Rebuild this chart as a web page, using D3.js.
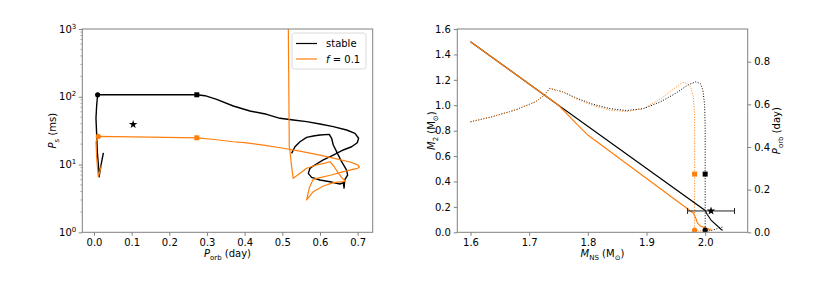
<!DOCTYPE html>
<html><head><meta charset="utf-8">
<script src="https://cdn.jsdelivr.net/npm/d3@7"></script>
<style>
body{margin:0;background:#fff}
svg{display:block}
text{font-family:"DejaVu Sans",sans-serif;fill:#000}
</style>
</head><body>
<svg id="c" width="830" height="291"></svg>
<script>
// ---------------- DATA ----------------
// Left panel: spin period (ms) vs orbital period (day)
const stablePorb = [0.5247,0.5336,0.5469,0.5646,0.5822,0.5999,0.6247,0.6309,0.6353,0.6442,0.6575,0.6708,0.6734,0.6660,0.6640,0.6620,0.6530,0.6265,0.6000,0.5778,0.5690,0.5734,0.5822,0.6088,0.6353,0.6619,0.6840,0.6990,0.7026,0.6929,0.6708,0.6353,0.6000,0.5646,0.5292,0.4938,0.4585,0.4141,0.3698,0.3257,0.2947,0.2730,0.1500,0.0098,0.0072,0.0053,0.0072,0.0088,0.0124,0.0135,0.0204,0.0250];
const stablePs   = [14.6,18.3,21.7,25.2,26.4,27.3,27.9,24.4,19.4,15.5,11.0,8.3,7.0,6.0,4.5,5.4,5.16,5.58,5.91,6.47,7.41,8.79,9.51,11.7,13.8,16.4,18.3,21.0,24.4,28.9,32.3,36.2,39.6,42.9,45.4,48.1,55.1,61.6,73.1,91.7,103.7,107,107,107,75.6,48.1,27.3,15.5,8.8,6.6,11.0,14.9];

const f01Porb = [0.516,0.517,0.5185,0.520,0.5247,0.529,0.547,0.5646,0.591,0.6130,0.6265,0.6360,0.6480,0.6600,0.6680,0.6600,0.6356,0.6090,0.5820,0.5646,0.5720,0.5820,0.6000,0.6300,0.6600,0.6850,0.7000,0.7050,0.7000,0.6800,0.6350,0.6000,0.5500,0.5025,0.4500,0.4000,0.3700,0.3200,0.2730,0.1500,0.0114,0.0053,0.0072,0.0114,0.0177,0.0204];
const f01Ps   = [1000,200,18.3,16.4,9.29,6.26,7.42,8.8,9.84,10.5,11.0,9.6,7.6,6.2,5.7,5.6,5.4,4.82,3.97,3.0,4.6,6.05,6.4,7.0,7.8,8.4,8.8,9.2,9.9,10.9,12.4,13.8,15.6,17.4,19.3,21.0,21.7,23.4,24.8,25.3,26.0,21.7,12.4,6.6,8.8,9.8];

const stableMarkPorb = [0.0098,0.273];
const stableMarkPs   = [107,107];
const f01MarkPorb = [0.0114,0.273];
const f01MarkPs   = [26.0,24.8];
const starPorb = 0.104, starPs = 39;

const leftXTicks = [0.0,0.1,0.2,0.3,0.4,0.5,0.6,0.7];
const leftYTicks = [1,10,100,1000];

// Right panel: companion mass (solid, left axis) and orbital period (dotted, right axis) vs NS mass
const stableMNS = [1.6,1.75,2.0,2.0035,2.0065,2.01,2.027,2.03];
const stableM2  = [1.5,1.0,0.172,0.14,0.12,0.096,0.024,0.015];
const f01MNS = [1.6,1.75,1.78,1.80,1.975,1.980,1.984,1.987,1.992,1.998,2.010];
const f01M2  = [1.5,1.0,0.857,0.765,0.168,0.150,0.110,0.071,0.050,0.039,0.018];

const stableMNSp = [1.6,1.637,1.677,1.711,1.726,1.735,1.745,1.757,1.78,1.809,1.838,1.866,1.895,1.924,1.950,1.970,1.984,1.992,1.996,1.999,2.0,2.0,2.0,2.005,2.015,2.03];
const stablePorbR = [0.518,0.542,0.574,0.612,0.644,0.675,0.667,0.659,0.630,0.600,0.580,0.571,0.580,0.612,0.652,0.690,0.706,0.697,0.668,0.600,0.500,0.273,0.010,0.006,0.012,0.025];
const f01MNSp = [1.6,1.637,1.677,1.711,1.726,1.735,1.745,1.757,1.78,1.809,1.838,1.866,1.895,1.924,1.945,1.962,1.970,1.976,1.980,1.982,1.982,1.982,1.990,2.000,2.010];
const f01PorbR = [0.518,0.542,0.574,0.612,0.644,0.675,0.667,0.659,0.626,0.594,0.573,0.566,0.580,0.625,0.670,0.703,0.698,0.675,0.630,0.550,0.273,0.010,0.005,0.012,0.020];

const stableMarkMNS = [2.0,2.0], stableMarkP = [0.273,0.010];
const f01MarkMNS = [1.982,1.982], f01MarkP = [0.273,0.010];
const obsMNS = 2.01, obsMNSlo = 1.97, obsMNShi = 2.05, obsM2 = 0.168;

const rightXTicks = [1.6,1.7,1.8,1.9,2.0];
const rightYTicks = [0.0,0.2,0.4,0.6,0.8,1.0,1.2,1.4,1.6];
const rightY2Ticks = [0.0,0.2,0.4,0.6,0.8];

const ORANGE = "#ff7f0e", BLACK = "#000";

// ---------------- DRAW ----------------
const svg = d3.select("#c");
const spineCol = "#808080";

function addLabel(g, x, y, parts, rotate) {
  const t = g.append("text").attr("font-size", 10).attr("text-anchor", "middle")
    .attr("transform", `translate(${x},${y})` + (rotate ? ` rotate(${rotate})` : ""));
  parts.forEach(p => {
    const ts = t.append("tspan").text(p.t);
    if (p.i) ts.attr("font-style", "italic");
    if (p.sub) ts.attr("font-size", 7).attr("dy", 2.5);
    if (p.up) ts.attr("dy", -2.5);
  });
  return t;
}

// ===== Left panel =====
const L = {x0: 82.3, x1: 372.7, y0: 29, y1: 232.3};
const xL = d3.scaleLinear().domain([-0.031, 0.74]).range([L.x0, L.x1]);
const yL = d3.scaleLog().domain([1, 1000]).range([L.y1, L.y0]);

svg.append("clipPath").attr("id","clipL").append("rect")
  .attr("x", L.x0).attr("y", L.y0).attr("width", L.x1-L.x0).attr("height", L.y1-L.y0);

const gL = svg.append("g");
gL.append("g").attr("transform", `translate(0,${L.y1})`)
  .call(d3.axisBottom(xL).tickValues(leftXTicks).tickSize(3.5).tickPadding(3).tickFormat(d3.format(".1f")));
const ayL = gL.append("g").attr("transform", `translate(${L.x0},0)`)
  .call(d3.axisLeft(yL).tickValues(leftYTicks).tickSize(3.5).tickPadding(3).tickFormat(""));
ayL.selectAll(".tick").each(function(d){
  const t = d3.select(this).append("text").attr("x", -6).attr("dy", "0.32em")
    .attr("text-anchor","end").attr("font-size",10);
  t.append("tspan").text("10");
  t.append("tspan").attr("font-size",7).attr("dy",-4).text(Math.round(Math.log10(d)));
});
// minor ticks
const minorL = [];
for (let e = 0; e < 3; e++) for (let k = 2; k <= 9; k++) minorL.push(k * Math.pow(10, e));
gL.append("g").selectAll("line").data(minorL).join("line")
  .attr("x1", L.x0).attr("x2", L.x0 - 2).attr("y1", d => yL(d)).attr("y2", d => yL(d))
  .attr("stroke", spineCol).attr("stroke-width", 0.6);

const plotL = gL.append("g").attr("clip-path","url(#clipL)");
const lineL = d3.line().x(d => xL(d[0])).y(d => yL(d[1]));
plotL.append("path").datum(stablePorb.map((p,i)=>[p,stablePs[i]]))
  .attr("d", lineL).attr("fill","none").attr("stroke",BLACK).attr("stroke-width",1.4).attr("stroke-linejoin","round");
plotL.append("path").datum(f01Porb.map((p,i)=>[p,f01Ps[i]]))
  .attr("d", lineL).attr("fill","none").attr("stroke",ORANGE).attr("stroke-width",1.2).attr("stroke-linejoin","round");
// markers
function markers(g, xs, ys, sx, sy, col) {
  g.append("circle").attr("cx", sx(xs[0])).attr("cy", sy(ys[0])).attr("r", 2.6).attr("fill", col);
  g.append("rect").attr("x", sx(xs[1]) - 2.5).attr("y", sy(ys[1]) - 2.5).attr("width", 5).attr("height", 5).attr("fill", col);
}
markers(plotL, stableMarkPorb, stableMarkPs, xL, yL, BLACK);
markers(plotL, f01MarkPorb, f01MarkPs, xL, yL, ORANGE);
plotL.append("path").attr("d", d3.symbol(d3.symbolStar, 22)())
  .attr("transform", `translate(${xL(starPorb)},${yL(starPs)})`).attr("fill", BLACK);

gL.append("rect").attr("x", L.x0).attr("y", L.y0).attr("width", L.x1-L.x0).attr("height", L.y1-L.y0)
  .attr("fill","none").attr("stroke",spineCol).attr("stroke-width",1);

// legend
const lg = gL.append("g");
lg.append("rect").attr("x", 292).attr("y", 33).attr("width", 74).attr("height", 36).attr("rx", 2.5)
  .attr("fill","#fff").attr("fill-opacity",0.8).attr("stroke","#d0d0d0").attr("stroke-width",0.8);
lg.append("line").attr("x1",296).attr("x2",317).attr("y1",43.5).attr("y2",43.5).attr("stroke",BLACK).attr("stroke-width",1.2);
lg.append("text").attr("x",326).attr("y",47).attr("font-size",10).text("stable");
lg.append("line").attr("x1",296).attr("x2",317).attr("y1",59).attr("y2",59).attr("stroke",ORANGE).attr("stroke-width",1.2);
const lt = lg.append("text").attr("x",326).attr("y",62.5).attr("font-size",10);
lt.append("tspan").attr("font-style","italic").text("f");
lt.append("tspan").text(" = 0.1");

addLabel(gL, (L.x0+L.x1)/2, 257, [{t:"P",i:true},{t:"orb",sub:true},{t:" (day)",up:true}]);
addLabel(gL, 56, (L.y0+L.y1)/2, [{t:"P",i:true},{t:"s",sub:true},{t:" (ms)",up:true}], -90);

// ===== Right panel =====
const R = {x0: 457.3, x1: 747.7, y0: 29, y1: 232.3};
const xR = d3.scaleLinear().domain([1.5775, 2.0725]).range([R.x0, R.x1]);
const yR = d3.scaleLinear().domain([0, 1.6]).range([R.y1, R.y0]);
const yR2 = d3.scaleLinear().domain([0, 0.9533]).range([R.y1, R.y0]);

svg.append("clipPath").attr("id","clipR").append("rect")
  .attr("x", R.x0).attr("y", R.y0).attr("width", R.x1-R.x0).attr("height", R.y1-R.y0);
const gR = svg.append("g");
gR.append("g").attr("transform", `translate(0,${R.y1})`)
  .call(d3.axisBottom(xR).tickValues(rightXTicks).tickSize(3.5).tickPadding(3).tickFormat(d3.format(".1f")));
gR.append("g").attr("transform", `translate(${R.x0},0)`)
  .call(d3.axisLeft(yR).tickValues(rightYTicks).tickSize(3.5).tickPadding(3).tickFormat(d3.format(".1f")));
gR.append("g").attr("transform", `translate(${R.x1},0)`)
  .call(d3.axisRight(yR2).tickValues(rightY2Ticks).tickSize(3.5).tickPadding(3).tickFormat(d3.format(".1f")));

const plotR = gR.append("g").attr("clip-path","url(#clipR)");
const lineM = d3.line().x(d => xR(d[0])).y(d => yR(d[1]));
const lineP = d3.line().x(d => xR(d[0])).y(d => yR2(d[1]));
plotR.append("path").datum(stableMNSp.map((m,i)=>[m,stablePorbR[i]]))
  .attr("d", lineP).attr("fill","none").attr("stroke",BLACK).attr("stroke-width",1).attr("stroke-dasharray","1,1.65");
plotR.append("path").datum(f01MNSp.map((m,i)=>[m,f01PorbR[i]]))
  .attr("d", lineP).attr("fill","none").attr("stroke",ORANGE).attr("stroke-width",1).attr("stroke-dasharray","1,1.65");
plotR.append("path").datum(stableMNS.map((m,i)=>[m,stableM2[i]]))
  .attr("d", lineM).attr("fill","none").attr("stroke",BLACK).attr("stroke-width",1.1);
plotR.append("path").datum(f01MNS.map((m,i)=>[m,f01M2[i]]))
  .attr("d", lineM).attr("fill","none").attr("stroke",ORANGE).attr("stroke-width",1.2);

// markers (square at 0.273, circle at low Porb)
function markersR(xs, ys, col) {
  plotR.append("rect").attr("x", xR(xs[0]) - 2.5).attr("y", yR2(ys[0]) - 2.5).attr("width", 5).attr("height", 5).attr("fill", col);
  plotR.append("circle").attr("cx", xR(xs[1])).attr("cy", yR2(ys[1])).attr("r", 2.6).attr("fill", col);
}
markersR(f01MarkMNS, f01MarkP, ORANGE);
markersR(stableMarkMNS, stableMarkP, BLACK);

// observed point with error bar
const eb = plotR.append("g").attr("stroke", "#222").attr("stroke-width", 1);
eb.append("line").attr("x1", xR(obsMNSlo)).attr("x2", xR(obsMNShi)).attr("y1", yR(obsM2)).attr("y2", yR(obsM2));
eb.append("line").attr("x1", xR(obsMNSlo)).attr("x2", xR(obsMNSlo)).attr("y1", yR(obsM2)-3).attr("y2", yR(obsM2)+3);
eb.append("line").attr("x1", xR(obsMNShi)).attr("x2", xR(obsMNShi)).attr("y1", yR(obsM2)-3).attr("y2", yR(obsM2)+3);
plotR.append("path").attr("d", d3.symbol(d3.symbolStar, 22)())
  .attr("transform", `translate(${xR(obsMNS)},${yR(obsM2)})`).attr("fill", BLACK);

gR.append("rect").attr("x", R.x0).attr("y", R.y0).attr("width", R.x1-R.x0).attr("height", R.y1-R.y0)
  .attr("fill","none").attr("stroke",spineCol).attr("stroke-width",1);

addLabel(gR, (R.x0+R.x1)/2, 257, [{t:"M",i:true},{t:"NS",sub:true},{t:" (M",up:true},{t:"⊙",sub:true},{t:")",up:true}]);
addLabel(gR, 435, (R.y0+R.y1)/2, [{t:"M",i:true},{t:"2",sub:true},{t:" (M",up:true},{t:"⊙",sub:true},{t:")",up:true}], -90);
addLabel(gR, 780, (R.y0+R.y1)/2, [{t:"P",i:true},{t:"orb",sub:true},{t:" (day)",up:true}], -90);

// axis styling
svg.selectAll(".domain").remove();
svg.selectAll(".tick line").attr("stroke", spineCol);
svg.selectAll(".tick text").attr("font-size", 10).attr("font-family", "DejaVu Sans").attr("fill", "#000");
</script>
</body></html>
